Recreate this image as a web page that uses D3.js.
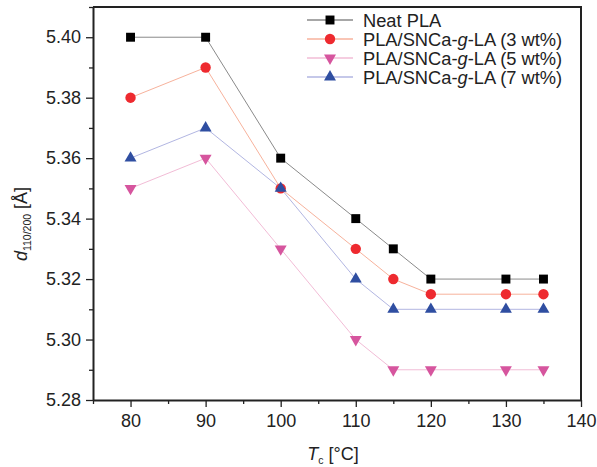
<!DOCTYPE html>
<html>
<head>
<meta charset="utf-8">
<script src="https://cdn.jsdelivr.net/npm/d3@7"></script>
<style>
  body { margin: 0; background: #fff; }
  svg { font-family: "Liberation Sans", Arial, sans-serif; }
</style>
</head>
<body>
<div id="chart"></div>
<script>
// data
const temps = [80, 90, 100, 110, 115, 120, 130, 135];
const neatPLA = [5.40, 5.40, 5.36, 5.34, 5.33, 5.32, 5.32, 5.32];
const pla3 = [5.38, 5.39, 5.35, 5.33, 5.32, 5.315, 5.315, 5.315];
const pla5 = [5.35, 5.36, 5.33, 5.30, 5.29, 5.29, 5.29, 5.29];
const pla7 = [5.36, 5.37, 5.35, 5.32, 5.31, 5.31, 5.31, 5.31];
const xTicks = [80, 90, 100, 110, 120, 130, 140];
const yTicks = [5.28, 5.30, 5.32, 5.34, 5.36, 5.38, 5.40];

const series = [
  { name: 'Neat PLA', values: neatPLA, symbol: d3.symbolSquare, size: 80, rot: 0, fill: '#000000', line: '#8a8a8a' },
  { name: '3', values: pla3, symbol: d3.symbolCircle, size: 85, rot: 0, fill: '#ee2a2f', line: '#f7b29c' },
  { name: '5', values: pla5, symbol: d3.symbolTriangle, size: 62, rot: 180, fill: '#d6559e', line: '#f2bcd6' },
  { name: '7', values: pla7, symbol: d3.symbolTriangle, size: 62, rot: 0, fill: '#2f4ea1', line: '#b2b6e2' }
];

const width = 597, height = 467;
const margin = { top: 7, right: 16, bottom: 67, left: 93 };

const svg = d3.select('#chart').append('svg')
  .attr('width', width)
  .attr('height', height);

const x = d3.scaleLinear().domain([75, 140]).range([margin.left, width - margin.right]);
const y = d3.scaleLinear().domain([5.28, 5.41]).range([height - margin.bottom, margin.top]);

// minor ticks first
const xMinor = d3.range(75, 141, 5).filter(v => v % 10 !== 0);
const yMinor = d3.range(5.29, 5.41, 0.02);

svg.append('g')
  .attr('transform', `translate(0,${y.range()[0]})`)
  .call(d3.axisBottom(x).tickValues(xMinor).tickSize(4).tickFormat(''))
  .call(g => g.select('.domain').remove())
  .selectAll('line').attr('stroke', '#222').attr('stroke-width', 1.3);

svg.append('g')
  .attr('transform', `translate(${x.range()[0]},0)`)
  .call(d3.axisLeft(y).tickValues(yMinor).tickSize(4).tickFormat(''))
  .call(g => g.select('.domain').remove())
  .selectAll('line').attr('stroke', '#222').attr('stroke-width', 1.3);

// major axes
const xAxis = svg.append('g')
  .attr('transform', `translate(0,${y.range()[0]})`)
  .call(d3.axisBottom(x).tickValues(xTicks).tickSize(7).tickSizeOuter(0).tickPadding(7));

const yAxis = svg.append('g')
  .attr('transform', `translate(${x.range()[0]},0)`)
  .call(d3.axisLeft(y).tickValues(yTicks).tickSize(7).tickSizeOuter(0).tickPadding(5).tickFormat(d3.format('.2f')));

[xAxis, yAxis].forEach(g => {
  g.select('.domain').attr('stroke', '#222').attr('stroke-width', 2);
  g.selectAll('.tick line').attr('stroke', '#222').attr('stroke-width', 1.3);
  g.selectAll('.tick text').attr('fill', '#222').style('font-size', '18px');
});

// top and right frame
svg.append('path')
  .attr('d', `M${x.range()[0]},${y.range()[1]}H${x.range()[1]}V${y.range()[0]}`)
  .attr('fill', 'none')
  .attr('stroke', '#222')
  .attr('stroke-width', 2);

const symbolFor = s => d3.symbol().type(s.symbol).size(s.size)();

const line = d3.line()
  .x((d, i) => x(temps[i]))
  .y(d => y(d));

// lines
series.forEach(s => {
  svg.append('path')
    .datum(s.values)
    .attr('fill', 'none')
    .attr('stroke', s.line)
    .attr('stroke-width', 1)
    .attr('d', line);
});

// markers
series.forEach(s => {
  svg.append('g')
    .selectAll('path')
    .data(s.values)
    .enter().append('path')
    .attr('transform', (d, i) => `translate(${x(temps[i])},${y(d)}) rotate(${s.rot})`)
    .attr('d', symbolFor(s))
    .attr('fill', s.fill);
});

// legend
const legend = svg.append('g').attr('transform', 'translate(307,20)');
series.forEach((s, i) => {
  const row = legend.append('g').attr('transform', `translate(0,${i * 19})`);
  row.append('line')
    .attr('x1', 0).attr('x2', 46)
    .attr('stroke', s.line).attr('stroke-width', 1.5);
  row.append('path')
    .attr('transform', `translate(23,0) rotate(${s.rot})`)
    .attr('d', symbolFor(s))
    .attr('fill', s.fill);
  const t = row.append('text')
    .attr('x', 56).attr('y', 6.5)
    .attr('fill', '#222')
    .style('font-size', '18.3px');
  if (i === 0) {
    t.text(s.name);
  } else {
    t.append('tspan').text('PLA/SNCa-');
    t.append('tspan').style('font-style', 'italic').text('g');
    t.append('tspan').text(`-LA (${s.name} wt%)`);
  }
});

// axis titles
const xt = svg.append('text')
  .attr('x', 333).attr('y', 460)
  .attr('text-anchor', 'middle')
  .attr('fill', '#222')
  .style('font-size', '18px');
xt.append('tspan').style('font-style', 'italic').text('T');
xt.append('tspan').attr('dy', 4).style('font-size', '10.5px').text('c');
xt.append('tspan').attr('dy', -4).text(' [°C]');

const yt = svg.append('text')
  .attr('transform', 'translate(27,224) rotate(-90)')
  .attr('text-anchor', 'middle')
  .attr('fill', '#222')
  .style('font-size', '18px');
yt.append('tspan').style('font-style', 'italic').text('d');
yt.append('tspan').attr('dy', 4).style('font-size', '10.5px').text('110/200');
yt.append('tspan').attr('dy', -4).text(' [Å]');
</script>
</body>
</html>
